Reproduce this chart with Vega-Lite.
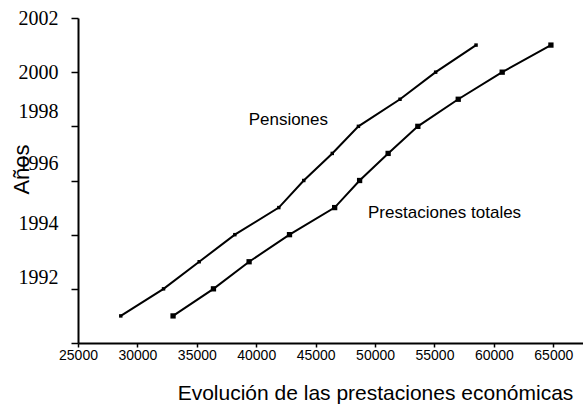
{
  "$schema": "https://vega.github.io/schema/vega-lite/v6.json",
  "width": 505,
  "height": 325,
  "autosize": "none",
  "padding": {"left": 78, "top": 18, "right": 0, "bottom": 61},
  "background": "white",
  "config": {
    "view": {"stroke": null},
    "axis": {"grid": false, "domainColor": "black", "tickColor": "black", "labelColor": "black", "titleColor": "black", "domainWidth": 2, "tickWidth": 1.5}
  },
  "datasets": {
    "lines": [
      {"series": "Pensiones", "year": 1991, "value": 28600},
      {"series": "Pensiones", "year": 1992, "value": 32200},
      {"series": "Pensiones", "year": 1993, "value": 35200},
      {"series": "Pensiones", "year": 1994, "value": 38200},
      {"series": "Pensiones", "year": 1995, "value": 41900},
      {"series": "Pensiones", "year": 1996, "value": 44000},
      {"series": "Pensiones", "year": 1997, "value": 46400},
      {"series": "Pensiones", "year": 1998, "value": 48600},
      {"series": "Pensiones", "year": 1999, "value": 52100},
      {"series": "Pensiones", "year": 2000, "value": 55100},
      {"series": "Pensiones", "year": 2001, "value": 58500},
      {"series": "Prestaciones totales", "year": 1991, "value": 33000},
      {"series": "Prestaciones totales", "year": 1992, "value": 36400},
      {"series": "Prestaciones totales", "year": 1993, "value": 39400},
      {"series": "Prestaciones totales", "year": 1994, "value": 42800},
      {"series": "Prestaciones totales", "year": 1995, "value": 46600},
      {"series": "Prestaciones totales", "year": 1996, "value": 48700},
      {"series": "Prestaciones totales", "year": 1997, "value": 51100},
      {"series": "Prestaciones totales", "year": 1998, "value": 53600},
      {"series": "Prestaciones totales", "year": 1999, "value": 57000},
      {"series": "Prestaciones totales", "year": 2000, "value": 60700},
      {"series": "Prestaciones totales", "year": 2001, "value": 64800}
    ],
    "labels": [
      {"label": "Pensiones", "year": 1998.23, "value": 42700},
      {"label": "Prestaciones totales", "year": 1994.8, "value": 55850}
    ]
  },
  "layer": [
    {
      "data": {"name": "lines"},
      "mark": {"type": "line", "color": "black", "strokeWidth": 2},
      "encoding": {
        "x": {
          "field": "value", "type": "quantitative",
          "scale": {"domain": [25000, 67500], "nice": false, "zero": false},
          "axis": {
            "title": "Evolución de las prestaciones económicas",
            "titleFont": "Liberation Sans", "titleFontSize": 21, "titleFontWeight": "normal",
            "titleX": 297, "titleY": 56, "titleAlign": "center", "titleBaseline": "alphabetic", "titleAnchor": "start",
            "values": [25000, 27500, 30000, 32500, 35000, 37500, 40000, 42500, 45000, 47500, 50000, 52500, 55000, 57500, 60000, 62500, 65000, 67500],
            "labelExpr": "datum.value % 5000 == 0 && datum.value <= 65000 ? format(datum.value, 'd') : ''",
            "labelFont": "Liberation Sans", "labelFontSize": 14, "labelPadding": 1,
            "tickSize": 4, "labelOverlap": false, "labelFlush": false
          }
        },
        "y": {
          "field": "year", "type": "quantitative",
          "scale": {"domain": [1990, 2002], "nice": false, "zero": false},
          "axis": {
            "title": "Años",
            "titleFont": "Liberation Sans", "titleFontSize": 22, "titleFontWeight": "normal",
            "titleX": -57, "titleY": 151, "titleAngle": 270, "titleAlign": "center", "titleBaseline": "middle",
            "values": [1990, 1991, 1992, 1993, 1994, 1995, 1996, 1997, 1998, 1999, 2000, 2001, 2002],
            "labelExpr": "datum.value % 2 == 0 && datum.value > 1990 ? format(datum.value, 'd') : ''",
            "labelFont": "Liberation Serif",
            "labelOffset": {"condition": [
              {"test": "datum.value == 1998", "value": -15},
              {"test": "datum.value == 1996", "value": -17},
              {"test": "datum.value <= 1994", "value": -11}
            ], "value": 0},
            "labelFontSize": 20, "labelPadding": 13,
            "tickSize": 7, "labelOverlap": false, "labelFlush": false
          }
        },
        "detail": {"field": "series", "type": "nominal"}
      }
    },
    {
      "data": {"name": "lines"},
      "mark": {"type": "point", "shape": "square", "filled": true, "color": "black", "opacity": 1},
      "encoding": {
        "x": {"field": "value", "type": "quantitative"},
        "y": {"field": "year", "type": "quantitative"},
        "size": {"field": "series", "type": "nominal", "scale": {"domain": ["Pensiones", "Prestaciones totales"], "range": [12, 28]}, "legend": null}
      }
    },
    {
      "data": {"name": "labels"},
      "mark": {"type": "text", "font": "Liberation Sans", "fontSize": 17, "color": "black", "align": "center", "baseline": "middle"},
      "encoding": {
        "x": {"field": "value", "type": "quantitative"},
        "y": {"field": "year", "type": "quantitative"},
        "text": {"field": "label", "type": "nominal"}
      }
    }
  ]
}
